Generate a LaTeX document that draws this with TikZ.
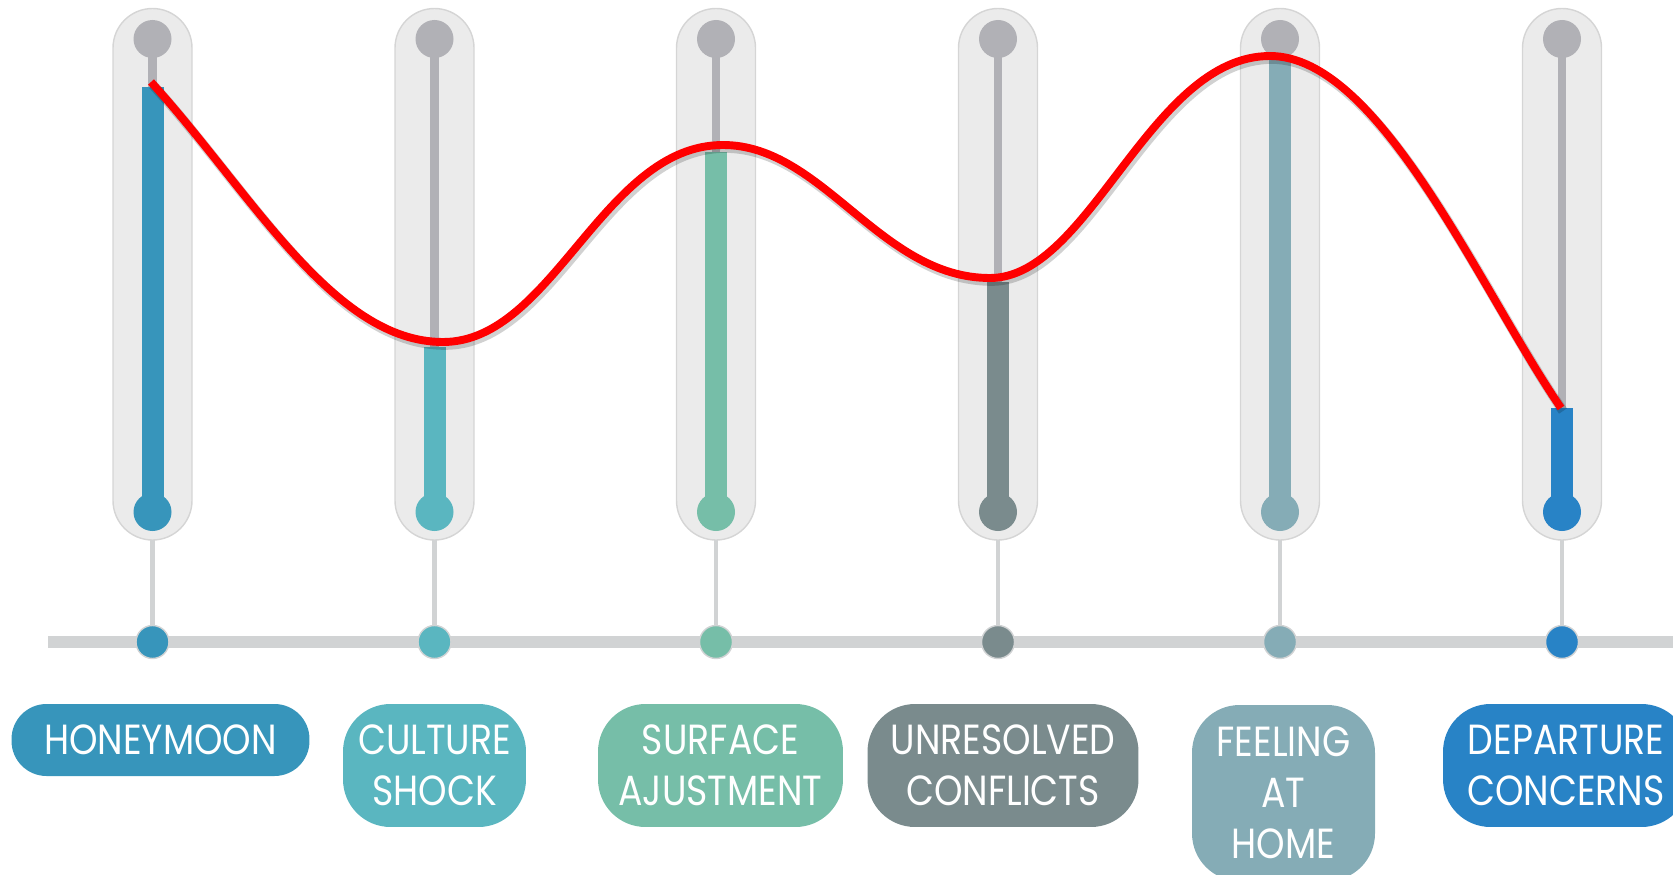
\documentclass[tikz,border=0pt]{standalone}
\usepackage{fontspec}
\newfontfamily\etichetta{Poppins}[FakeStretch=0.86]

\definecolor{cHoney}{HTML}{3795BB}
\definecolor{cShock}{HTML}{5AB6C0}
\definecolor{cSurface}{HTML}{76BEA8}
\definecolor{cConflict}{HTML}{7A8B8D}
\definecolor{cHome}{HTML}{85ACB6}
\definecolor{cDeparture}{HTML}{2883C6}
\definecolor{tubo}{HTML}{EBEBEB}
\definecolor{bordo}{HTML}{D5D5D5}
\definecolor{stelo}{HTML}{B1B1B6}
\definecolor{linea}{HTML}{D1D3D4}

\begin{document}
\begin{tikzpicture}[x=0.02cm, y=-0.02cm,
    etich/.style={rounded corners=0.95cm, text=white, align=center, inner sep=0pt,
        font=\etichetta\fontsize{24}{29}\selectfont},
    pallino/.style={circle, draw=linea, line width=0.8pt, minimum size=0.66cm, inner sep=0pt}]

\useasboundingbox (0,0) rectangle (1673,875);

% --- Linea del tempo ---
\draw[linea, line width=6.8pt] (48,642) -- (1673,642);

% --- Termometri ---
\foreach \x/\top/\col [count=\i] in {152.5/87/cHoney, 434.5/347/cShock, 716/152/cSurface,
        998/282/cConflict, 1280/60/cHome, 1562/408/cDeparture} {
    \draw[fill=tubo, draw=bordo, line width=0.8pt, rounded corners=0.79cm]
        (\x-39.5,8.5) rectangle (\x+39.5,540);
    \coordinate (base\i) at (\x,540);
    % stelo grigio e livello colorato
    \draw[stelo, line width=4.6pt] (\x,39) -- (\x,512);
    \fill[stelo] (\x,39) circle [radius=19];
    \fill[\col] (\x-11,\top) rectangle (\x+11,512);
    \fill[\col] (\x,512) circle [radius=19];
    % collegamento alla linea del tempo
    \node[pallino, fill=\col] (dot\i) at (\x,642) {};
    \draw[linea, line width=2.8pt] (base\i) -- (dot\i.north);
}

% --- Curva rossa ---
\draw[black, opacity=0.18, line width=5.5pt, shift={(2,3)}]
    (151,82) .. controls (251,192) and (333,342) .. (443,342)
    .. controls (553,342) and (603,145) .. (723,145)
    .. controls (823,145) and (880,278) .. (990,278)
    .. controls (1090,278) and (1150,56) .. (1270,56)
    .. controls (1380,56) and (1480,290) .. (1561,408);
\draw[red, line width=4.5pt]
    (151,82) .. controls (251,192) and (333,342) .. (443,342)
    .. controls (553,342) and (603,145) .. (723,145)
    .. controls (823,145) and (880,278) .. (990,278)
    .. controls (1090,278) and (1150,56) .. (1270,56)
    .. controls (1380,56) and (1480,290) .. (1561,408);

% --- Etichette ---
\node[etich, rounded corners=0.7cm, fill=cHoney, minimum width=5.96cm, minimum height=1.44cm] (lbl1) at (160.5,740) {HONEYMOON};
\node[etich, fill=cShock, minimum width=3.66cm, minimum height=2.46cm] (lbl2) at (434.5,765.5) {CULTURE\\SHOCK};
\node[etich, fill=cSurface, minimum width=4.9cm, minimum height=2.46cm] (lbl3) at (720.5,765.5) {SURFACE\\AJUSTMENT};
\node[etich, fill=cConflict, minimum width=5.42cm, minimum height=2.46cm] (lbl4) at (1003,765.5) {UNRESOLVED\\CONFLICTS};
\node[etich, fill=cHome, minimum width=3.66cm, minimum height=3.52cm] (lbl5) at (1283.5,793) {FEELING\\AT\\HOME};
\node[etich, fill=cDeparture, minimum width=4.92cm, minimum height=2.46cm] (lbl6) at (1566,765.5) {DEPARTURE\\CONCERNS};

\end{tikzpicture}
\end{document}
